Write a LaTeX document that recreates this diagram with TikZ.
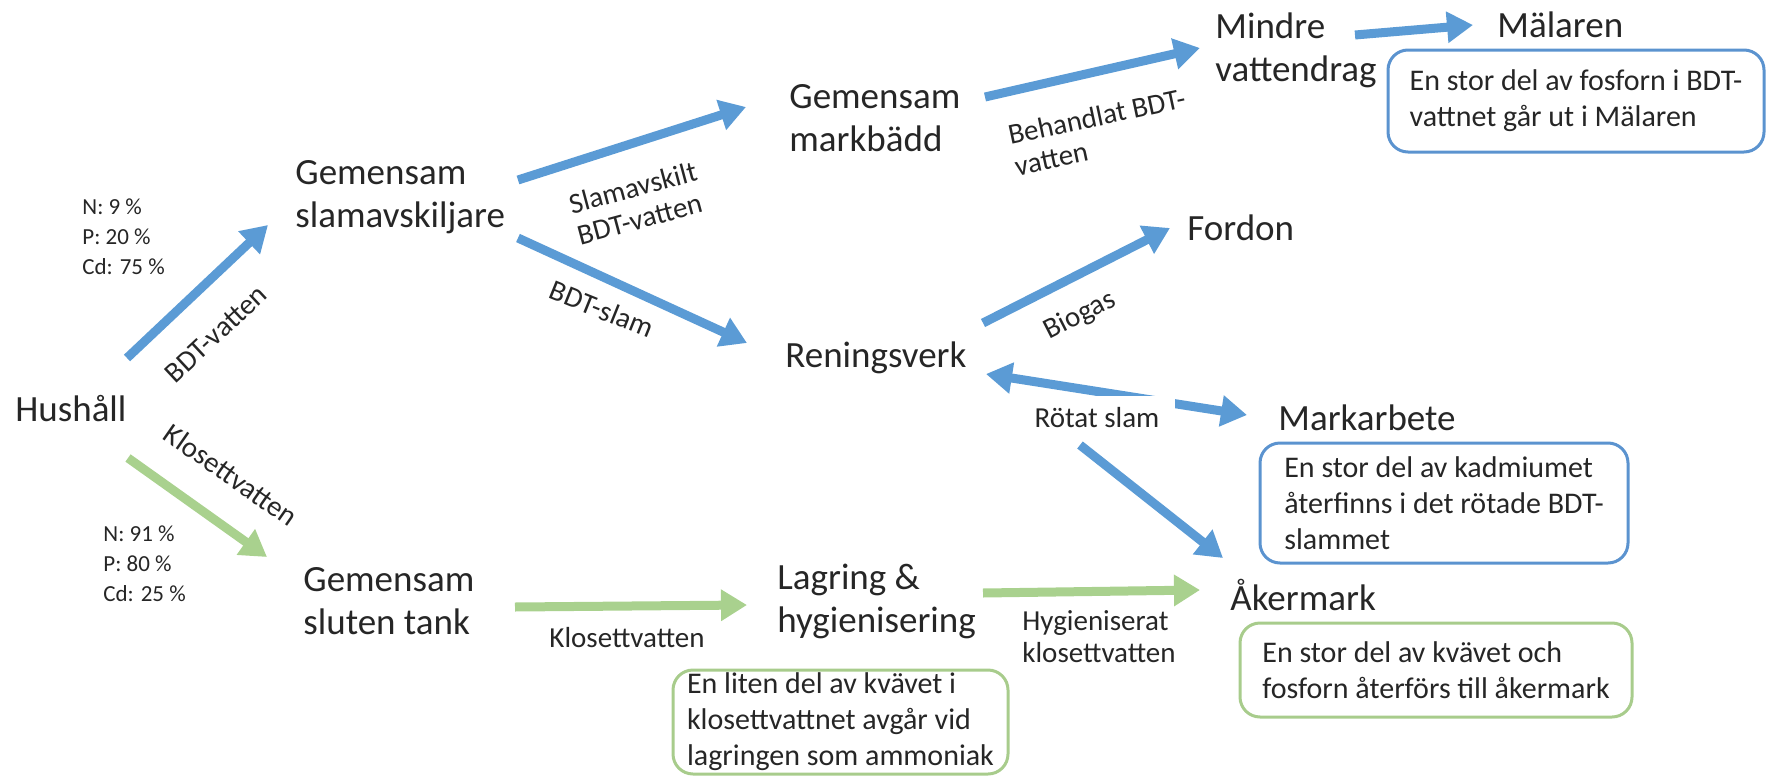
\documentclass[tikz,border=0pt]{standalone}
\usepackage{fontspec}
\setmainfont{Carlito}
\usetikzlibrary{arrows.meta,calc}
\definecolor{flowblue}{HTML}{5B9BD5}
\definecolor{flowgreen}{HTML}{A9D18E}
\definecolor{noteblue}{HTML}{5B93CF}
\definecolor{notegreen}{HTML}{A8CC8C}
\definecolor{inktext}{HTML}{262626}

\begin{document}
\begin{tikzpicture}[x=0.5pt, y=-0.5pt, text=inktext,
    stage/.style={anchor=west, align=left, inner sep=0pt, font=\fontsize{18.5}{21.5}\selectfont},
    flowlbl/.style={inner sep=1pt, align=left, font=\fontsize{14.5}{16}\selectfont},
    share/.style={anchor=west, align=left, inner sep=0pt, font=\fontsize{11.5}{15}\selectfont},
    note/.style={draw, line width=1.5pt, rounded corners=10pt, align=left, inner sep=0pt, font=\fontsize{15}{18}\selectfont},
    bluenote/.style={note, draw=noteblue},
    greennote/.style={note, draw=notegreen},
    bflow/.style={-{Triangle[length=13pt,width=15pt]}, line width=4.5pt, draw=flowblue},
    gflow/.style={bflow, draw=flowgreen}]
  \useasboundingbox (0,0) rectangle (1767,776);

  % stations
  \node[stage] (hush) at (15,409) {Hushåll};
  \node[stage] (slam) at (295,197) {Gemensam\\slamavskiljare};
  \node[stage] (markb) at (789,118) {Gemensam\\markbädd};
  \node[stage] (mindre) at (1215,50) {Mindre\\vattendrag};
  \node[stage] (malaren) at (1497,25) {Mälaren};
  \node[stage] (fordon) at (1187,228) {Fordon};
  \node[stage] (rening) at (785,358) {Reningsverk};
  \node[stage] (markarb) at (1278,418) {Markarbete};
  \node[stage] (aker) at (1230,595) {Åkermark};
  \node[stage] (tank) at (303,601) {Gemensam\\sluten tank};
  \node[stage] (lagring) at (777,601) {Lagring \&\\hygienisering};

  % shares of N, P and Cd
  \node[share] (sharebdt) at (82,237) {N: 9 \%\\P: 20 \%\\Cd: 75 \%};
  \node[share] (sharekl) at (103,564) {N: 91 \%\\P: 80 \%\\Cd: 25 \%};

  % comments
  \node[bluenote, minimum width=188pt, minimum height=51pt] (notemal) at (1576,101) {En stor del av fosforn i BDT-\\vattnet går ut i Mälaren};
  \node[bluenote, minimum width=184pt, minimum height=60pt] (notecd) at (1444,503) {En stor del av kadmiumet\\återfinns i det rötade BDT-\\slammet};
  \node[greennote, minimum width=196pt, minimum height=47pt] (notenp) at (1436,670) {En stor del av kvävet och\\fosforn återförs till åkermark};
  \node[greennote, minimum width=167.5pt, minimum height=52pt] (notelag) at (840.5,722) {En liten del av kvävet i\\klosettvattnet avgår vid\\lagringen som ammoniak};

  % flows
  \draw[bflow] ($(hush.west)+(112,-51)$) -- ($(slam.west)+(-27,28)$);
  \draw[gflow] ($(hush.west)+(113,49)$) -- ($(tank.west)+(-36,-44)$);
  \draw[bflow] ($(slam.west)+(223,-17)$) -- ($(markb.west)+(-43,-11)$);
  \draw[bflow] ($(slam.west)+(223,41)$) -- ($(rening.west)+(-38,-15)$);
  \draw[bflow] ($(markb.west)+(196,-21)$) -- ($(mindre.west)+(-15,-2)$);
  \draw[bflow] ($(mindre.west)+(140,-15)$) -- ($(malaren.west)+(-24,0)$);
  \draw[bflow] ($(rening.west)+(198,-35)$) -- ($(fordon.west)+(-17,0)$);
  \draw[bflow, {Triangle[length=13pt,width=15pt]}-{Triangle[length=13pt,width=15pt]}] ($(rening.west)+(201,16)$) -- ($(markarb.west)+(-31,-3)$);
  \draw[bflow] ($(rening.west)+(295,87)$) -- ($(aker.west)+(-7,-37)$);
  \draw[gflow] ($(tank.west)+(212,6)$) -- ($(lagring.west)+(-30,4)$);
  \draw[gflow] ($(lagring.west)+(206,-8)$) -- ($(aker.west)+(-30,-5)$);

  % flow labels
  \node[flowlbl, rotate=43] (lblbdt) at (216,334) {BDT-vatten};
  \node[flowlbl, rotate=-35] (lblkl) at (231,475) {Klosettvatten};
  \node[flowlbl, rotate=15] (lblskilt) at (637,203) {Slamavskilt\\BDT-vatten};
  \node[flowlbl, rotate=-22] (lblslam) at (602,309) {BDT-slam};
  \node[flowlbl, rotate=12] (lblbeh) at (1100,132) {Behandlat BDT-\\vatten};
  \node[flowlbl, rotate=27] (lblbio) at (1080,316) {Biogas};
  \node[flowlbl, fill=white, inner xsep=8pt, inner ysep=6pt] (lblrot) at (1097,418) {Rötat slam};
  \node[flowlbl] (lbltank) at (627,638) {Klosettvatten};
  \node[flowlbl, anchor=west] (lblhyg) at (1020,637) {Hygieniserat\\klosettvatten};
\end{tikzpicture}
\end{document}
